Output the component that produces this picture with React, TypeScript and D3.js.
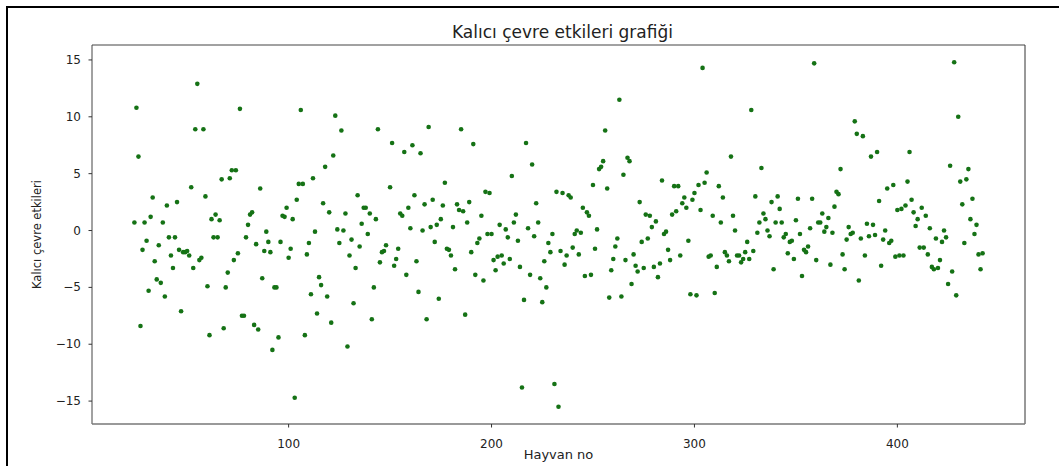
import React from "react";
import * as d3 from "d3";

// Kalıcı çevre etkileri, one value per animal starting at animal no 24 (null = no point)
const firstAnimalNo = 24;
const etkiler: (number | null)[] = [
  0.7, 10.8, 6.5, -8.4, -1.7, 0.7, -0.9, -5.3, 1.2, 2.9,
  -2.7, -4.3, -1.3, -4.6, 0.7, -5.8, 2.2, -0.6, -2.2, -3.3,
  -0.6, 2.5, -1.7, -7.1, -1.9, -1.9, -1.8, -2.2, 3.8, -3.3,
  8.9, 12.9, -2.6, -2.4, 8.9, 3.0, -4.9, -9.2, 1.0, -0.6,
  1.4, -0.6, 0.9, 4.5, -8.6, -5.0, -3.7, 4.6, 5.3, -2.6,
  5.3, -2.0, 10.7, -7.5, -7.5, -0.6, 0.5, 1.4, 1.6, -8.3,
  -1.2, -8.7, 3.7, -4.2, -1.8, -0.1, -1.0, -1.9, -10.5, -5.0,
  -5.0, -9.4, -1.0, 1.3, 1.2, 2.0, -2.4, -1.6, 1.0, -14.7,
  2.7, 4.1, 10.6, 4.1, -9.2, -2.1, -1.1, -5.6, 4.6, -0.1,
  -7.3, -4.1, -4.8, 2.4, 5.6, -5.8, 1.6, -8.1, 6.6, 10.1,
  0.1, -1.1, 8.8, 0.0, 1.5, -10.2, -2.2, -0.8, -6.4, -3.3,
  3.1, -1.4, 0.6, 2.0, 2.0, -0.3, 1.5, -7.8, -5.0, 1.0,
  8.9, -2.8, -1.9, -1.8, -1.3, null, 3.8, 7.7, -3.1, -2.5,
  -1.6, 1.5, 1.3, 6.9, -3.9, 2.0, 0.2, 7.5, 3.1, -2.7,
  -5.4, 6.8, 0.0, 2.3, -7.8, 9.1, 0.3, 2.7, -1.0, 0.5,
  -6.0, 1.0, 2.2, 4.2, -1.6, -1.7, -2.2, 0.3, -3.4, 2.3,
  1.8, 8.9, 1.7, -7.4, 0.7, 2.5, -1.9, 7.6, -3.9, -1.1,
  -0.7, 1.3, -4.4, 3.4, -0.3, 3.3, -0.3, -2.6, -3.5, -2.3,
  0.5, -2.2, -2.9, 0.1, -0.6, -2.5, 4.8, 0.7, 1.4, -0.9,
  -3.2, -13.8, -6.1, 7.7, 0.2, -3.9, 5.8, -0.5, 2.4, 0.7,
  -4.2, -6.3, -2.7, -5.0, -1.1, -1.9, -0.3, -13.5, 3.4, -15.5,
  -1.8, 3.3, -3.0, -2.2, 3.1, 2.9, -1.5, -0.3, 0.0, -2.1,
  -0.2, 2.0, -4.0, 1.6, 1.3, -3.9, 4.0, -1.6, 0.1, 5.4,
  5.6, 6.1, 8.8, 3.7, -5.9, -3.5, -2.5, -1.4, -0.7, 11.5,
  -5.8, 4.9, -2.6, 6.4, 6.1, -4.7, -2.1, -3.1, -3.6, 2.5,
  -1.0, -3.3, 1.4, -0.7, 1.3, 0.3, -3.2, 0.8, -4.1, -2.9,
  4.4, -0.3, -0.1, -1.7, -2.6, 1.4, 3.9, 1.7, 3.9, -2.2,
  2.4, 2.9, 2.0, -0.9, -5.6, 2.7, 3.3, -5.7, 4.0, 1.8,
  14.3, 4.2, 5.1, -2.3, -2.2, 1.3, -5.5, -3.2, 3.9, 0.7,
  2.9, -1.9, -2.2, -2.7, 6.5, 1.3, 0.0, -2.2, -2.2, -2.8,
  -2.5, -1.9, -1.0, -2.5, 10.6, -1.8, 3.0, -0.2, 0.7, 5.5,
  1.5, 1.0, 0.0, -0.5, 2.5, -3.4, 0.7, 3.0, 1.9, 0.7,
  -0.6, -0.3, -2.0, -1.0, -0.9, -2.5, 0.9, 2.8, -0.3, -4.0,
  -1.7, -1.9, -1.4, 0.2, 2.8, 14.7, -2.6, 0.7, 0.7, 1.5,
  -0.1, 0.3, 1.1, -3.0, -0.2, 2.1, 3.4, 3.2, 5.4, -2.1,
  -3.4, -0.8, 0.3, -0.3, -0.2, 9.6, 8.5, -4.4, -0.7, 8.3,
  -2.2, 0.6, -0.5, 6.5, 0.5, -0.4, 6.9, 2.6, -3.1, -0.8,
  0.0, 3.7, -1.1, -0.9, 4.0, -2.3, 1.8, -2.2, 1.9, -2.2,
  2.2, 4.3, 6.9, 2.7, 1.6, 0.4, 1.0, -1.5, 2.0, -1.5,
  1.3, -2.1, 0.2, -3.2, -3.4, -0.7, -3.3, -2.6, -1.0, 0.0,
  -0.6, -4.7, 5.7, -3.6, 14.8, -5.7, 10.0, 4.3, 2.3, -1.1,
  4.5, 5.4, 1.0, 2.8, -0.3, 0.5, -2.1, -3.4, -2.0,
];

const xTicks = [100, 200, 300, 400];
const yTicks = [-15, -10, -5, 0, 5, 10, 15];

const title = "Kalıcı çevre etkileri grafiği";
const xLabel = "Hayvan no";
const yLabel = "Kalıcı çevre etkileri";

const W = 1059;
const H = 466;
const plot = { left: 92, top: 45, right: 1025, bottom: 424 };
const font = "DejaVu Sans, sans-serif";

const points = etkiler
  .map((v, i) => ({ no: firstAnimalNo + i, v }))
  .filter((d) => d.v !== null) as { no: number; v: number }[];

// matplotlib style 5% margins around the data
const pad = (ext: [number, number]) => {
  const m = (ext[1] - ext[0]) * 0.05;
  return [ext[0] - m, ext[1] + m];
};

const App = () => {
  const x = d3
    .scaleLinear()
    .domain(pad(d3.extent(points, (d) => d.no) as [number, number]))
    .range([plot.left, plot.right]);
  const y = d3
    .scaleLinear()
    .domain(pad(d3.extent(points, (d) => d.v) as [number, number]))
    .range([plot.bottom, plot.top]);

  const fmt = (t: number) => (t < 0 ? "\u2212" + Math.abs(t) : String(t));
  const cx = (plot.left + plot.right) / 2;
  const cy = (plot.top + plot.bottom) / 2;

  return (
    <div style={{ position: "fixed", left: 0, top: 0 }}>
      <svg width={W} height={H} style={{ display: "block", background: "#fff" }} fontFamily={font}>
        {/* outer frame (left and top edges only) */}
        <line x1={7} y1={6} x2={7} y2={H} stroke="#000" strokeWidth={2} />
        <line x1={6} y1={7} x2={W} y2={7} stroke="#000" strokeWidth={2} />

        <text x={cx + 4} y={38} textAnchor="middle" fontSize={17} fill="#222">
          {title}
        </text>

        {points.map((d) => (
          <circle key={d.no} cx={x(d.no)} cy={y(d.v)} r={2.3} fill="#157215" />
        ))}

        {/* spines */}
        <line x1={plot.left} y1={plot.top} x2={plot.right} y2={plot.top} stroke="#444" />
        <line x1={plot.right} y1={plot.top} x2={plot.right} y2={plot.bottom} stroke="#333" />
        <line x1={plot.left} y1={plot.top} x2={plot.left} y2={plot.bottom} stroke="#444" />
        <line x1={plot.left} y1={plot.bottom} x2={plot.right} y2={plot.bottom} stroke="#777" strokeWidth={1.5} />

        {xTicks.map((t) => (
          <g key={t}>
            <line x1={x(t)} x2={x(t)} y1={plot.bottom} y2={plot.bottom + 3.5} stroke="#333" />
            <text x={x(t)} y={448} textAnchor="middle" fontSize={12} fill="#222">
              {fmt(t)}
            </text>
          </g>
        ))}
        {yTicks.map((t) => (
          <g key={t}>
            <line x1={plot.left - 3.5} x2={plot.left} y1={y(t)} y2={y(t)} stroke="#333" />
            <text x={81} y={y(t) + 4} textAnchor="end" fontSize={12} fill="#222">
              {fmt(t)}
            </text>
          </g>
        ))}

        <text x={cx} y={459} textAnchor="middle" fontSize={13} fill="#222">
          {xLabel}
        </text>
        <text
          transform={`translate(41,${cy}) rotate(-90)`}
          textAnchor="middle"
          fontSize={11.5}
          fill="#222"
        >
          {yLabel}
        </text>
      </svg>
    </div>
  );
};

export default App;
